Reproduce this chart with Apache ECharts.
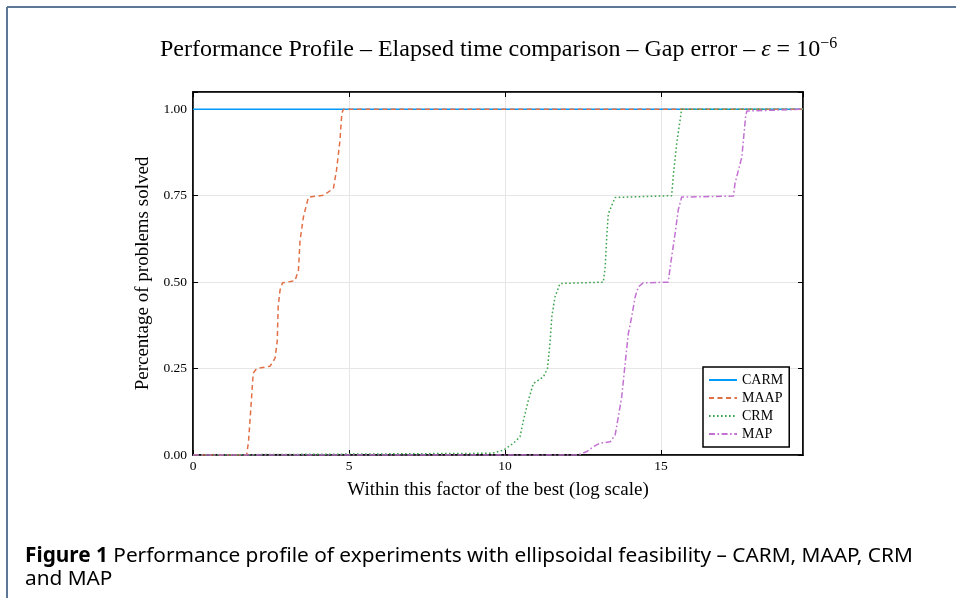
<!DOCTYPE html>
<html>
<head>
<meta charset="utf-8">
<script src="https://cdn.jsdelivr.net/npm/echarts@6/dist/echarts.min.js"></script>
<style>
html,body{margin:0;padding:0;background:#fff;}
#chart{width:956px;height:598px;}
</style>
</head>
<body>
<div id="chart"></div>
<script>
// ---- data (x = factor, y = fraction of problems solved) ----
const seriesNames = ['CARM', 'MAAP', 'CRM', 'MAP'];
const xTicks = [0, 5, 10, 15];
const yTicks = [0, 0.25, 0.5, 0.75, 1.0];
const xMax = 19.55;

const carm = [[0, 1.0], [19.55, 1.0]];
const maap = [[0, 0], [1.72, 0], [1.78, 0.04], [1.85, 0.13], [1.93, 0.237], [2.04, 0.25], [2.47, 0.257],
  [2.63, 0.28], [2.70, 0.33], [2.73, 0.43], [2.79, 0.477], [2.87, 0.498], [3.27, 0.504], [3.38, 0.535],
  [3.43, 0.62], [3.54, 0.689], [3.70, 0.746], [4.18, 0.751], [4.50, 0.771], [4.60, 0.824], [4.71, 0.91],
  [4.77, 0.988], [4.82, 1.0], [19.55, 1.0]];
const crm = [[0, 0], [9.57, 0.005], [9.95, 0.014], [10.27, 0.034], [10.48, 0.053], [10.59, 0.10],
  [10.75, 0.159], [10.91, 0.207], [11.23, 0.226], [11.36, 0.25], [11.44, 0.323], [11.50, 0.40],
  [11.60, 0.457], [11.76, 0.496], [13.15, 0.50], [13.21, 0.544], [13.26, 0.63], [13.31, 0.698],
  [13.53, 0.745], [13.58, 0.749], [15.34, 0.75], [15.40, 0.814], [15.50, 0.90], [15.61, 0.968],
  [15.66, 1.0], [19.55, 1.0]];
const map = [[0, 0], [12.35, 0], [12.62, 0.01], [12.83, 0.024], [13.04, 0.034], [13.37, 0.038],
  [13.53, 0.058], [13.63, 0.11], [13.74, 0.168], [13.85, 0.265], [13.95, 0.35], [14.06, 0.40],
  [14.17, 0.457], [14.27, 0.486], [14.43, 0.498], [15.23, 0.50], [15.34, 0.573], [15.45, 0.64],
  [15.55, 0.708], [15.66, 0.746], [17.32, 0.749], [17.37, 0.785], [17.48, 0.824], [17.59, 0.862],
  [17.66, 0.93], [17.71, 0.978], [17.75, 0.995], [17.78, 1.0], [19.55, 1.0]];

const colors = ['#009af9', '#e26f46', '#3da44d', '#c271d2'];
const dashes = ['solid', [5, 3.5], [1.6, 2.4], [6, 2.5, 1.6, 2.5]];
const seriesData = [carm, maap, crm, map];

const serif = '"Liberation Serif", "DejaVu Serif", serif';
const sans = '"Noto Sans", "Open Sans", sans-serif';
const chart = echarts.init(document.getElementById('chart'), null, {renderer: 'canvas'});

const xLabelFmt = v => (xTicks.indexOf(v) >= 0 ? String(v) : '');
const yLabelFmt = v => (yTicks.some(t => Math.abs(t - v) < 1e-9) ? v.toFixed(2) : '');

const baseAxis = {
  axisLine: {show: true, onZero: false, lineStyle: {color: '#000', width: 1.5}},
  axisTick: {show: true, inside: true, length: 5, lineStyle: {color: '#000', width: 1}},
  splitLine: {show: false},
};

chart.setOption({
  animation: false,
  backgroundColor: '#fff',
  title: [{
    text: 'Performance Profile – Elapsed time comparison – Gap error – {i|ε} = 10{sup|−6}',
    left: 155, top: 31,
    textStyle: {
      fontFamily: serif, fontSize: 24, fontWeight: 'normal', color: '#000',
      rich: {
        i: {fontFamily: serif, fontSize: 24, fontStyle: 'italic', color: '#000'},
        sup: {fontFamily: serif, fontSize: 16, color: '#000', verticalAlign: 'top', padding: [0, 0, 12, 0]}
      }
    }
  }, {
    text: '{b|Figure 1} Performance profile of experiments with ellipsoidal feasibility – CARM, MAAP, CRM\nand MAP',
    left: 20, top: 540,
    textStyle: {
      fontFamily: sans, fontSize: 20.8, fontWeight: 'normal', color: '#000', lineHeight: 23,
      rich: {
        b: {fontFamily: sans, fontSize: 20.8, fontWeight: 'bold', color: '#000', lineHeight: 23}
      }
    }
  }],
  graphic: [
    {type: 'line', shape: {x1: 7, y1: 7, x2: 956, y2: 7}, style: {stroke: '#5d7896', lineWidth: 2}},
    {type: 'line', shape: {x1: 7, y1: 7, x2: 7, y2: 598}, style: {stroke: '#5d7896', lineWidth: 2}}
  ],
  grid: {left: 193, right: 153, top: 92, bottom: 143, show: true, borderColor: '#000', borderWidth: 1.5},
  legend: {
    data: seriesNames,
    orient: 'vertical', left: 703, top: 367,
    padding: [6, 6, 6, 5], itemGap: 4,
    itemWidth: 28, itemHeight: 12,
    borderColor: '#000', borderWidth: 1.5, backgroundColor: '#fff',
    itemStyle: {opacity: 0},
    textStyle: {fontFamily: serif, fontSize: 14, color: '#000'}
  },
  xAxis: [Object.assign({}, baseAxis, {
    type: 'value', min: 0, max: xMax, interval: 5, position: 'bottom',
    name: 'Within this factor of the best (log scale)', nameLocation: 'middle', nameGap: 26,
    nameTextStyle: {fontFamily: serif, fontSize: 19, color: '#000'},
    axisLabel: {formatter: xLabelFmt, fontFamily: serif, fontSize: 13.5, color: '#000', margin: 4, showMaxLabel: false},
    splitLine: {show: true, lineStyle: {color: '#e6e6e6', width: 1}}
  }), Object.assign({}, baseAxis, {
    type: 'value', min: 0, max: xMax, interval: 5, position: 'top',
    axisLabel: {show: false}
  })],
  yAxis: [Object.assign({}, baseAxis, {
    type: 'value', min: 0, max: 1.05, interval: 0.25, position: 'left',
    name: 'Percentage of problems solved', nameLocation: 'middle', nameGap: 38, nameRotate: 90,
    nameTextStyle: {fontFamily: serif, fontSize: 19, color: '#000'},
    axisLabel: {formatter: yLabelFmt, fontFamily: serif, fontSize: 13.5, color: '#000', margin: 6},
    splitLine: {show: true, lineStyle: {color: '#e6e6e6', width: 1}}
  }), Object.assign({}, baseAxis, {
    type: 'value', min: 0, max: 1.05, interval: 0.25, position: 'right',
    axisLabel: {show: false}
  })],
  series: seriesNames.map((n, i) => ({
    name: n, type: 'line', data: seriesData[i], showSymbol: false, symbol: 'none',
    xAxisIndex: 0, yAxisIndex: 0, z: 2 + i,
    color: colors[i],
    lineStyle: {color: colors[i], width: 1.5, type: dashes[i]}
  }))
});
</script>
</body>
</html>
